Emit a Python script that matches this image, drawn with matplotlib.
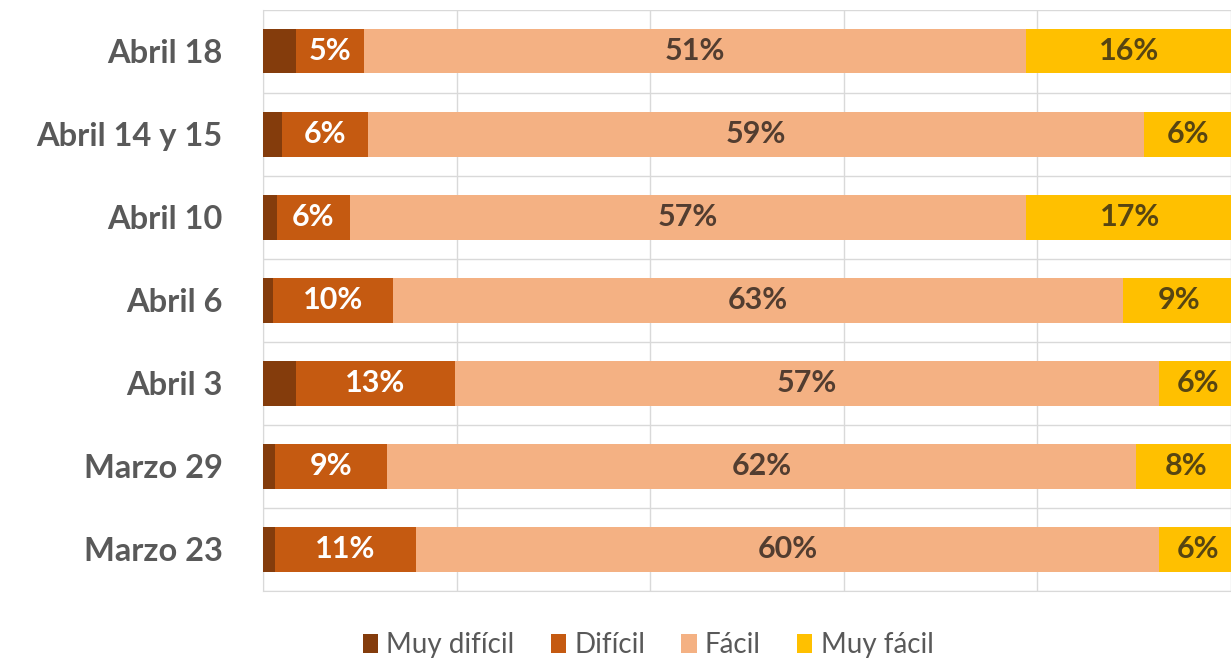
import numpy as np
import matplotlib.pyplot as plt

plt.rcParams['font.family'] = ['Lato', 'DejaVu Sans']

# data (bars in counts-like units, labels are the shown percentages)
fechas = ['Abril 18', 'Abril 14 y 15', 'Abril 10', 'Abril 6', 'Abril 3', 'Marzo 29', 'Marzo 23']
muy_dificil = [17, 10, 7, 5, 17, 6, 6]
dificil = [35, 44, 38, 62, 82, 58, 73]
facil = [342, 401, 349, 377, 364, 387, 384]
muy_facil = [107, 46, 108, 58, 40, 52, 40]

lbl_dificil = ['5%', '6%', '6%', '10%', '13%', '9%', '11%']
lbl_facil = ['51%', '59%', '57%', '63%', '57%', '62%', '60%']
lbl_muy_facil = ['16%', '6%', '17%', '9%', '6%', '8%', '6%']

series = ['Muy difícil', 'Difícil', 'Fácil', 'Muy fácil']
colores = ['#843C0C', '#C55A11', '#F4B183', '#FFC000']

fig = plt.figure(figsize=(12.31, 6.64), dpi=100)
W, H = 1231, 664
ax = fig.add_axes([263 / W, 1 - 591 / H, (W - 263) / W, (591 - 9.5) / H])

y = np.arange(len(fechas))
left = np.zeros(len(fechas))
valores = [muy_dificil, dificil, facil, muy_facil]
etiquetas = [None, lbl_dificil, lbl_facil, lbl_muy_facil]
colores_txt = [None, 'white', '#523d30', '#574512']

for vals, col, nombre, labs, ctxt in zip(valores, colores, series, etiquetas, colores_txt):
    vals = np.array(vals, dtype=float)
    ax.barh(y, vals, left=left, height=0.54, color=col, label=nombre, zorder=3)
    if labs is not None:
        for yi, l, v, t in zip(y, left, vals, labs):
            ax.text(l + v / 2, yi, t, ha='center', va='center', color=ctxt,
                    fontsize=22, fontweight='bold', zorder=4, clip_on=False)
    left += vals

ax.set_xlim(0, (W - 263) / 1.953)
ax.set_ylim(len(fechas) - 0.5, -0.5)
ax.set_yticks(y)
ax.set_yticklabels(fechas, fontsize=23.5, fontweight='bold', color='#595959')
ax.tick_params(axis='y', length=0, pad=29)
ax.set_xticks(np.arange(0, 600, 100))
ax.tick_params(axis='x', length=0, labelbottom=False)
ax.set_yticks(np.arange(-0.5, len(fechas)), minor=True)
ax.tick_params(axis='y', which='minor', length=0)
ax.grid(axis='x', color='#d9d9d9', lw=1, zorder=0)
ax.grid(axis='y', which='minor', color='#d9d9d9', lw=1, zorder=0)
ax.grid(axis='y', which='major', visible=False)
for s in ['top', 'right']:
    ax.spines[s].set_visible(False)
for s in ['left', 'bottom']:
    ax.spines[s].set_color('#d9d9d9')

fig.legend(loc='center', bbox_to_anchor=(648 / W, 1 - 645 / H), ncol=4, frameon=False,
           fontsize=20, handlelength=0.55, handleheight=0.65, handletextpad=0.3,
           columnspacing=1.3, labelcolor='#595959')

fig.savefig('out.png', dpi=100)
